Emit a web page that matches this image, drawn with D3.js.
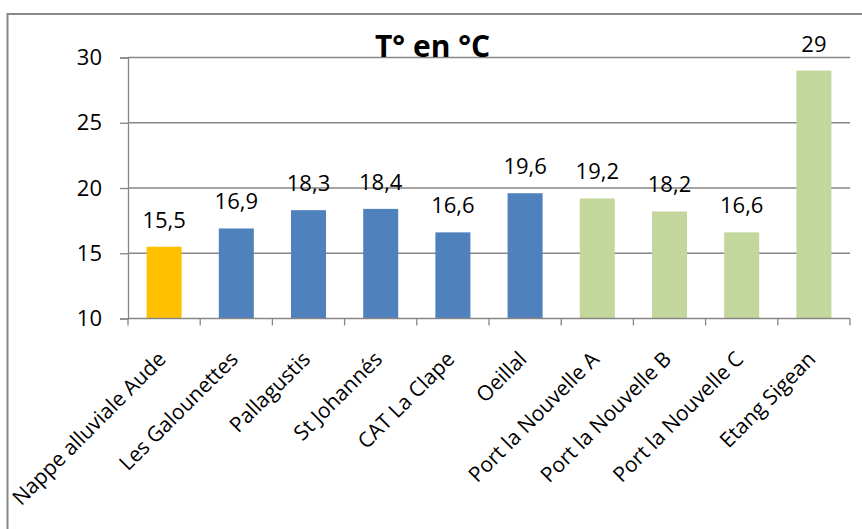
<!DOCTYPE html>
<html>
<head>
<meta charset="utf-8">
<script src="https://cdn.jsdelivr.net/npm/d3@7"></script>
<style>
  html, body { margin: 0; padding: 0; background: #fff; }
  svg { display: block; font-family: "Open Sans", Lato, sans-serif; }
</style>
</head>
<body>
<svg id="chart" width="862" height="529"></svg>
<script>
// Water temperature per sampling site
const sites = ["Nappe alluviale Aude", "Les Galounettes", "Pallagustis", "St Johannés",
               "CAT La Clape", "Oeillal", "Port la Nouvelle A", "Port la Nouvelle B",
               "Port la Nouvelle C", "Etang Sigean"];
const temperatures = [15.5, 16.9, 18.3, 18.4, 16.6, 19.6, 19.2, 18.2, 16.6, 29];
const groups = ["nappe", "terre", "terre", "terre", "terre", "terre", "mer", "mer", "mer", "mer"];
const yTicks = [10, 15, 20, 25, 30];
const titleText = "T° en °C";

const groupColor = d3.scaleOrdinal()
  .domain(["nappe", "terre", "mer"])
  .range(["#FFC000", "#4F81BD", "#C3D69B"]);

const svg = d3.select("#chart");
const plot = { left: 128, right: 850, top: 57.5, bottom: 318.5 };
const fontFamily = "'Open Sans', Lato, sans-serif";

// frame of the chart area
svg.append("rect")
  .attr("x", 7.5).attr("y", 14)
  .attr("width", 880).attr("height", 540)
  .attr("fill", "none").attr("stroke", "#888").attr("stroke-width", 2);

const x = d3.scaleBand()
  .domain(sites)
  .range([plot.left, plot.right])
  .paddingInner(0.515)
  .paddingOuter(0.2575);

const y = d3.scaleLinear()
  .domain([10, 30])
  .range([plot.bottom, plot.top]);

// horizontal gridlines
svg.append("g")
  .selectAll("line")
  .data(yTicks.filter(t => t > 10))
  .join("line")
  .attr("x1", plot.left).attr("x2", plot.right)
  .attr("y1", d => y(d)).attr("y2", d => y(d))
  .attr("stroke", "#868686").attr("stroke-width", 1.3);

// y axis
const yAxis = svg.append("g")
  .attr("transform", `translate(${plot.left},0)`)
  .call(d3.axisLeft(y).tickValues(yTicks).tickSize(8).tickPadding(18).tickFormat(d3.format("d")));
yAxis.select(".domain").attr("stroke", "#868686").attr("stroke-width", 1.3);
yAxis.selectAll(".tick line").attr("stroke", "#868686").attr("stroke-width", 1.3);
yAxis.selectAll(".tick text")
  .attr("font-size", 22).attr("fill", "#000")
  .attr("font-family", fontFamily);

// bars
svg.append("g")
  .selectAll("rect")
  .data(sites)
  .join("rect")
  .attr("x", d => x(d))
  .attr("width", x.bandwidth())
  .attr("y", (d, i) => y(temperatures[i]))
  .attr("height", (d, i) => y(10) - y(temperatures[i]))
  .attr("fill", (d, i) => groupColor(groups[i]));

// x axis with ticks at band boundaries
const xAxisG = svg.append("g").attr("transform", `translate(0,${plot.bottom})`);
xAxisG.append("line")
  .attr("x1", plot.left).attr("x2", plot.right)
  .attr("stroke", "#868686").attr("stroke-width", 1.3);
const bounds = d3.range(sites.length + 1).map(i => plot.left + i * x.step());
xAxisG.selectAll("line.tick")
  .data(bounds)
  .join("line")
  .attr("class", "tick")
  .attr("x1", d => d).attr("x2", d => d)
  .attr("y1", 0).attr("y2", 7)
  .attr("stroke", "#868686").attr("stroke-width", 1.3);

// rotated category labels
svg.append("g")
  .selectAll("text")
  .data(sites)
  .join("text")
  .attr("transform", d => `translate(${x(d) + x.bandwidth() / 2 + 3},${plot.bottom + 42}) rotate(-45)`)
  .attr("text-anchor", "end")
  .attr("font-size", 21)
  .attr("fill", "#000")
  .text(d => d);

// value labels
const fmt = v => String(v).replace(".", ",");
svg.append("g")
  .selectAll("text")
  .data(sites)
  .join("text")
  .attr("x", d => x(d) + x.bandwidth() / 2)
  .attr("y", (d, i) => y(temperatures[i]) - 19)
  .attr("text-anchor", "middle")
  .attr("font-size", 22)
  .attr("fill", "#000")
  .text((d, i) => fmt(temperatures[i]));

// title
svg.append("text")
  .attr("x", 432.5).attr("y", 57)
  .attr("text-anchor", "middle")
  .attr("font-size", 30).attr("font-weight", "bold")
  .attr("fill", "#000")
  .text(titleText);
</script>
</body>
</html>
